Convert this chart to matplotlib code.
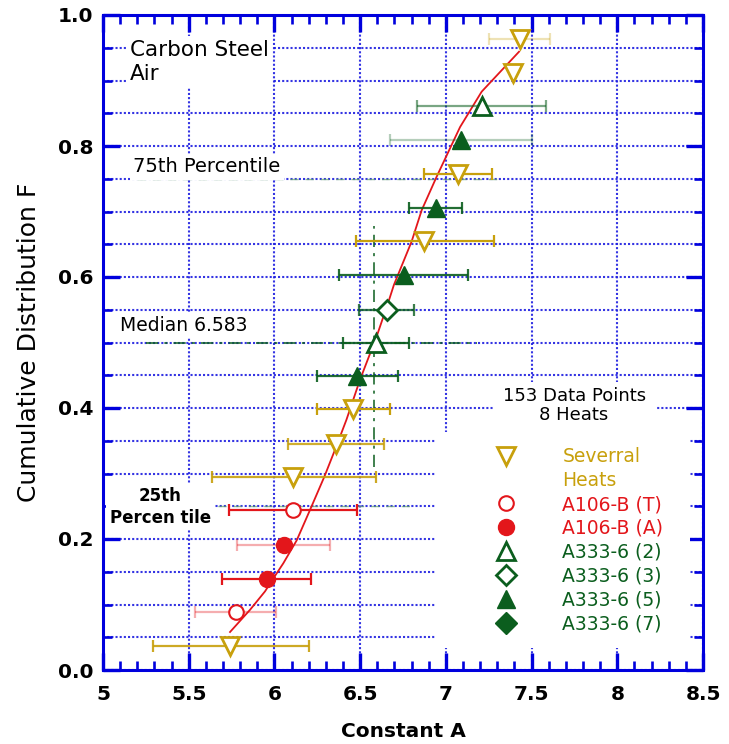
import numpy as np
import matplotlib
matplotlib.use("Agg")
import matplotlib.pyplot as plt
from matplotlib.lines import Line2D
from matplotlib.patches import Rectangle
from matplotlib.ticker import MultipleLocator, FormatStrFormatter, FuncFormatter

# ---------------- data ----------------
# Several heats (open inverted triangles)
sev_a = [7.43, 7.39, 7.07, 6.87, 6.46, 6.36, 6.11, 5.74]
sev_f = [0.963, 0.912, 0.757, 0.655, 0.398, 0.345, 0.295, 0.037]
sev_lo = [7.25, np.nan, 6.87, 6.475, 6.25, 6.08, 5.635, 5.29]
sev_hi = [7.61, np.nan, 7.27, 7.28, 6.675, 6.64, 6.59, 6.20]
sev_bar_alpha = [0.3, 1.0, 1.0, 1.0, 1.0, 0.85, 0.9, 0.9]

# A106-B (T) (open circles)
a106t_a = [6.108, 5.775]
a106t_f = [0.244, 0.0885]
a106t_lo = [5.735, 5.537]
a106t_hi = [6.484, 6.007]
a106t_bar_alpha = [1.0, 0.35]

# A106-B (A) (filled circles)
a106a_a = [6.054, 5.957]
a106a_f = [0.191, 0.139]
a106a_lo = [5.78, 5.696]
a106a_hi = [6.324, 6.213]
a106a_bar_alpha = [0.35, 1.0]

# A333-6 (2) (open triangles)
a3332_a = [7.209, 6.593]
a3332_f = [0.861, 0.500]
a3332_lo = [6.83, 6.402]
a3332_hi = [7.585, 6.785]
a3332_bar_alpha = [0.55, 0.9]

# A333-6 (3) (open diamond)
a3333_a = [6.655]
a3333_f = [0.550]
a3333_lo = [6.495]
a3333_hi = [6.816]
a3333_bar_alpha = [0.8]

# A333-6 (5) (filled triangles)
a3335_a = [7.09, 6.94, 6.754, 6.484]
a3335_f = [0.809, 0.706, 0.603, 0.449]
a3335_lo = [6.674, 6.787, 6.379, 6.25]
a3335_hi = [7.504, 7.092, 7.127, 6.719]
a3335_bar_alpha = [0.3, 0.9, 0.9, 0.9]

# fitted distribution curve
curve_a = [5.741, 5.858, 5.945, 5.994, 6.052, 6.13, 6.207, 6.291, 6.353, 6.42,
           6.499, 6.596, 6.665, 6.697, 6.80, 6.859, 6.946, 7.083, 7.209, 7.427]
curve_f = [0.058, 0.092, 0.12, 0.14, 0.163, 0.198, 0.244, 0.295, 0.336, 0.382,
           0.443, 0.509, 0.562, 0.588, 0.654, 0.702, 0.753, 0.829, 0.883, 0.944]

median_a = 6.583
median_band = [0.31, 0.678]
percentiles = [0.25, 0.5, 0.75]

# ---------------- style ----------------
GOLD = "#C8A00C"
RED = "#E3161B"
GREEN = "#0B5E1E"
BLUE = "#0000DD"
GRID = "#1E1EE0"

fig = plt.figure(figsize=(7.29, 7.44), dpi=100)
ax = fig.add_axes([103 / 729, (744 - 670) / 744, 600 / 729, 655 / 744])
ax.set_xlim(5, 8.5)
ax.set_ylim(0, 1.0)
ax.set_axisbelow(True)

# grid: vertical every 0.5, horizontal every 0.05
ax.xaxis.set_major_locator(MultipleLocator(0.5))
ax.xaxis.set_minor_locator(MultipleLocator(0.1))
ax.yaxis.set_major_locator(MultipleLocator(0.2))
ax.yaxis.set_minor_locator(MultipleLocator(0.05))
ax.grid(which="major", axis="x", color=GRID, ls=(0, (1, 1)), lw=1.5, alpha=0.9)
ax.grid(which="both", axis="y", color=GRID, ls=(0, (1, 1)), lw=1.5, alpha=0.9)

ax.xaxis.set_major_formatter(FuncFormatter(lambda v, p: f"{v:g}"))
ax.yaxis.set_major_formatter(FormatStrFormatter("%.1f"))
ax.tick_params(which="both", direction="in", top=True, right=True, color=BLUE)
ax.tick_params(which="major", length=12, width=2.4)
ax.tick_params(which="minor", length=6.5, width=1.9)
ax.tick_params(axis="x", which="major", pad=11)
ax.tick_params(axis="y", which="major", pad=7)
for lab in ax.get_xticklabels() + ax.get_yticklabels():
    lab.set_fontsize(14.5)
    lab.set_fontweight("bold")
for sp in ax.spines.values():
    sp.set_color(BLUE)
    sp.set_linewidth(2.2)

ax.set_xlabel("Constant A", fontsize=14.5, fontweight="bold", labelpad=13)
ax.set_ylabel("Cumulative Distribution F", fontsize=18, labelpad=12)

# white panels behind the annotation block and legend
ax.add_patch(Rectangle((0.553, 0.034), 0.425, 0.33, transform=ax.transAxes,
                       facecolor="white", edgecolor="none", zorder=1))
ax.add_patch(Rectangle((0.65, 0.363), 0.273, 0.077, transform=ax.transAxes,
                       facecolor="white", edgecolor="none", zorder=1))

# percentile and median reference lines
ax.plot([5.2, 7.3], [percentiles[2]] * 2, color="#5E9E6A", ls=(0, (6, 5)), lw=1.0, alpha=0.7, zorder=2)
ax.plot([5.25, 7.18], [percentiles[1]] * 2, color=GREEN, ls=(0, (8, 4, 2, 4)), lw=1.1, zorder=2)
ax.plot([5.4, 6.8], [percentiles[0]] * 2, color="#5E9E6A", ls=(0, (6, 5)), lw=1.0, alpha=0.7, zorder=2)
ax.plot([median_a, median_a], median_band, color=GREEN, ls=(0, (8, 4, 2, 4)), lw=1.1, zorder=2)

# fitted curve
ax.plot(curve_a, curve_f, color=RED, lw=1.3, zorder=3)


def draw_series(a, f, lo, hi, bar_alpha, color, marker, ms, filled, mew):
    for ai, fi, l, h, al in zip(a, f, lo, hi, bar_alpha):
        if not np.isnan(l):
            ax.errorbar([ai], [fi], xerr=[[ai - l], [h - ai]], fmt="none",
                        ecolor=color, elinewidth=1.6, capsize=4.5, capthick=1.6,
                        alpha=al, zorder=3)
    ax.plot(a, f, ls="none", marker=marker, ms=ms, mec=color,
            mfc=color if filled else "white", mew=mew, zorder=4)


draw_series(sev_a, sev_f, sev_lo, sev_hi, sev_bar_alpha, GOLD, "v", 13, False, 2.0)
draw_series(a106t_a, a106t_f, a106t_lo, a106t_hi, a106t_bar_alpha, RED, "o", 10.5, False, 1.5)
draw_series(a106a_a, a106a_f, a106a_lo, a106a_hi, a106a_bar_alpha, RED, "o", 11.5, True, 1.0)
draw_series(a3332_a, a3332_f, a3332_lo, a3332_hi, a3332_bar_alpha, GREEN, "^", 13, False, 2.0)
draw_series(a3333_a, a3333_f, a3333_lo, a3333_hi, a3333_bar_alpha, GREEN, "D", 10, False, 2.0)
draw_series(a3335_a, a3335_f, a3335_lo, a3335_hi, a3335_bar_alpha, GREEN, "^", 13, True, 1.0)

# annotations
box = dict(facecolor="white", edgecolor="none", pad=2.5)
ax.text(5.158, 0.962, "Carbon Steel\nAir", fontsize=15.5, ha="left", va="top",
        linespacing=1.25, bbox=box, zorder=5)
ax.text(5.175, 0.760, "75th Percentile", fontsize=14, ha="left", va="baseline",
        bbox=box, zorder=5)
ax.text(5.099, 0.518, "Median 6.583", fontsize=13.5, ha="left", va="baseline",
        bbox=box, zorder=5)
ax.text(7.748, 0.432, "153 Data Points\n8 Heats", fontsize=13, ha="center", va="top",
        multialignment="center", linespacing=1.1, zorder=5)
ax.text(5.333, 0.279, "25th\nPercen tile", fontsize=12, fontweight="bold", ha="center",
        va="top", multialignment="center", linespacing=1.25, bbox=box, zorder=5)

# legend
handles = [
    Line2D([], [], ls="none", marker="v", ms=13, mec=GOLD, mfc="white", mew=2.0),
    Line2D([], [], ls="none"),
    Line2D([], [], ls="none", marker="o", ms=10.5, mec=RED, mfc="white", mew=1.5),
    Line2D([], [], ls="none", marker="o", ms=11.5, mec=RED, mfc=RED),
    Line2D([], [], ls="none", marker="^", ms=13, mec=GREEN, mfc="white", mew=2.0),
    Line2D([], [], ls="none", marker="D", ms=10, mec=GREEN, mfc="white", mew=2.0),
    Line2D([], [], ls="none", marker="^", ms=13, mec=GREEN, mfc=GREEN),
    Line2D([], [], ls="none", marker="D", ms=11, mec=GREEN, mfc=GREEN),
]
labels = ["Severral", "Heats", "A106-B (T)", "A106-B (A)", "A333-6 (2)",
          "A333-6 (3)", "A333-6 (5)", "A333-6 (7)"]
label_colors = [GOLD, GOLD, RED, RED, GREEN, GREEN, GREEN, GREEN]
leg = ax.legend(handles, labels, loc="upper left", bbox_to_anchor=(0.653, 0.34),
                frameon=False, fontsize=13.5, handlelength=1.2, handletextpad=2.4,
                labelspacing=0.26, borderpad=0, borderaxespad=0,
                labelcolor=label_colors)
leg.set_zorder(6)

fig.savefig("out.png", dpi=100, facecolor="white")
